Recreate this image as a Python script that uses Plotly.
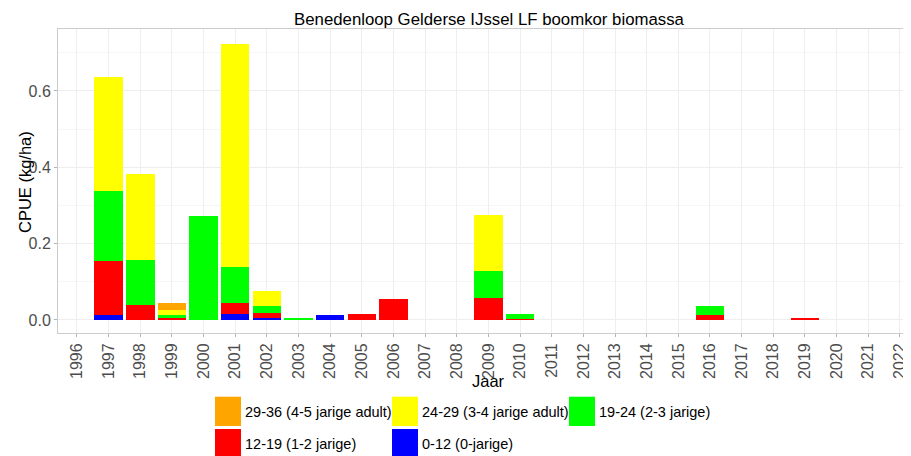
import plotly.graph_objects as go

years = list(range(1996, 2023))

# CPUE (kg/ha) per lengteklasse (0 = no catch)
blue_0_12 = {1997: 0.013, 2001: 0.016, 2002: 0.006, 2004: 0.012}
red_12_19 = {1997: 0.141, 1998: 0.038, 1999: 0.006, 2001: 0.029, 2002: 0.012,
             2005: 0.016, 2006: 0.054, 2009: 0.058, 2010: 0.003, 2016: 0.014, 2019: 0.005}
green_19_24 = {1997: 0.183, 1998: 0.119, 1999: 0.007, 2000: 0.272, 2001: 0.094,
               2002: 0.019, 2003: 0.003, 2009: 0.071, 2010: 0.012, 2016: 0.023}
yellow_24_29 = {1997: 0.299, 1998: 0.225, 1999: 0.013, 2001: 0.584, 2002: 0.039, 2009: 0.146}
orange_29_36 = {1999: 0.019}

# stacking order (bottom first)
series = [
    ("0-12 (0-jarige)", blue_0_12, "#0000FF"),
    ("12-19 (1-2 jarige)", red_12_19, "#FF0000"),
    ("19-24 (2-3 jarige)", green_19_24, "#00FF00"),
    ("24-29 (3-4 jarige adult)", yellow_24_29, "#FFFF00"),
    ("29-36 (4-5 jarige adult)", orange_29_36, "#FFA500"),
]
legend_order = [
    "29-36 (4-5 jarige adult)", "24-29 (3-4 jarige adult)", "19-24 (2-3 jarige)",
    "12-19 (1-2 jarige)", "0-12 (0-jarige)",
]

# the page body keeps its 8px default margin, so the figure is drawn 8px in
OFF = 8
W, H = 911 - OFF, 456 - OFF
ML, MR, MT, MB = 58 - OFF, 0, 29 - OFF, 123
PW, PH = W - ML - MR, H - MT - MB
FONT = "Liberation Sans, Arial, sans-serif"


def px_x(p):
    # page pixel -> paper x
    return (p - OFF - ML) / PW


def px_y(p):
    # page pixel -> paper y
    return (H - MB - (p - OFF)) / PH


fig = go.Figure()
for name, values, color in series:
    fig.add_trace(go.Bar(
        x=years,
        y=[values.get(y, 0) for y in years],
        name=name,
        width=0.9,
        marker={"color": color, "line": {"width": 0}},
        showlegend=False,
    ))

# hand-drawn legend (ggplot style keys)
colors = {name: color for name, _, color in series}
for i, name in enumerate(legend_order):
    row, col = divmod(i, 3)
    x0 = 215 + col * 177
    y0 = 396.7 + row * 32.3
    fig.add_shape(type="rect", xref="paper", yref="paper",
                  x0=px_x(x0), x1=px_x(x0 + 26), y0=px_y(y0), y1=px_y(y0 + 29.3),
                  fillcolor=colors[name], line={"width": 0})
    fig.add_annotation(xref="paper", yref="paper", x=px_x(x0 + 28), y=px_y(y0 + 15),
                       text=name, showarrow=False, xanchor="left", yanchor="middle",
                       font={"size": 14.5, "color": "black", "family": FONT})

fig.add_annotation(xref="paper", yref="paper", x=px_x(488), y=px_y(381),
                   text="Jaar", showarrow=False, xanchor="center", yanchor="middle",
                   font={"size": 16.5, "color": "black", "family": FONT})
fig.add_annotation(xref="paper", yref="paper", x=px_x(25), y=px_y(182),
                   text="CPUE (kg/ha)", showarrow=False, textangle=-90,
                   xanchor="center", yanchor="middle",
                   font={"size": 16.5, "color": "black", "family": FONT})

fig.update_layout(
    width=W, height=H,
    margin={"l": ML, "r": MR, "t": MT, "b": MB},
    barmode="stack",
    bargap=0,
    plot_bgcolor="white",
    paper_bgcolor="white",
    font={"family": FONT},
    title={"text": "Benedenloop Gelderse IJssel LF boomkor biomassa",
           "x": (489 - OFF) / W, "xanchor": "center", "xref": "container",
           "y": 1 - (19 - OFF) / H, "yanchor": "middle", "yref": "container",
           "font": {"size": 16.8, "color": "black", "family": FONT}},
)
fig.update_xaxes(
    range=[1995.4, 1995.4 + PW / 31.65],
    tickmode="array", tickvals=years, ticktext=[str(y) for y in years],
    tickangle=-90, tickfont={"size": 16, "color": "#4D4D4D"},
    showgrid=True, gridcolor="#EEEEEE", gridwidth=1,
    showline=True, mirror=True, linecolor="#CCCCCC", linewidth=1,
    ticks="outside", ticklen=3, tickcolor="#B3B3B3",
    zeroline=False,
)
fig.update_yaxes(
    range=[-0.0341, 0.7624],
    tickmode="array", tickvals=[0, 0.2, 0.4, 0.6], ticktext=["0.0", "0.2", "0.4", "0.6"],
    tickfont={"size": 16, "color": "#4D4D4D"},
    showgrid=True, gridcolor="#EEEEEE", gridwidth=1,
    minor={"tickvals": [0.1, 0.3, 0.5, 0.7], "showgrid": True, "gridcolor": "#F6F6F6"},
    showline=True, linecolor="#CCCCCC", linewidth=1,
    ticks="outside", ticklen=3, tickcolor="#B3B3B3",
    zeroline=False,
)

fig.write_html("out.html")
